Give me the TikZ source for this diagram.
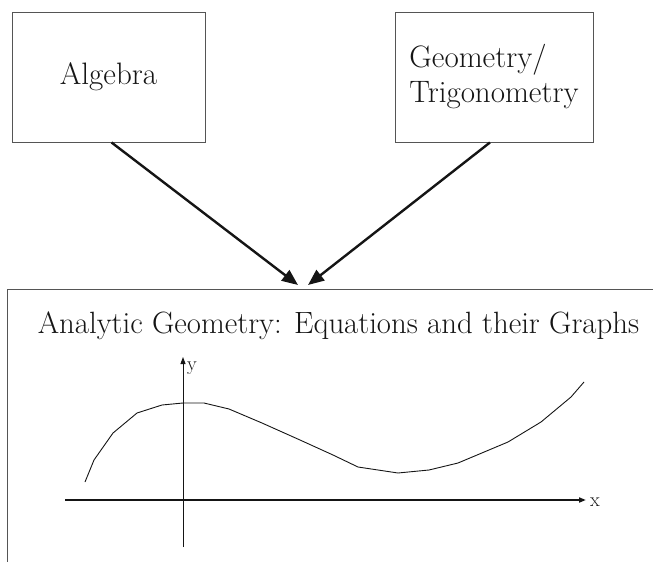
\documentclass[tikz,border=0pt]{standalone}
\usepackage{fontspec}
\usepackage{tikz}
\usetikzlibrary{arrows.meta,positioning,calc}
\definecolor{ink}{HTML}{151515}
\definecolor{frameline}{HTML}{555555}
\tikzset{
    every picture/.style={line join=miter},
    subjectbox/.style={draw=frameline,line width=0.9pt,inner sep=0pt,
      font=\fontsize{31pt}{35pt}\selectfont,text=ink},
    bigframe/.style={draw=frameline,line width=1pt,inner sep=0pt,anchor=north west},
    feedarrow/.style={-{Triangle[length=16pt,width=13pt]},draw=ink,line width=2.4pt},
    axisline/.style={-{Triangle[length=7pt,width=5pt]},draw=ink},
    axislabel/.style={font=\fontsize{20pt}{22pt}\selectfont,text=ink,inner sep=1pt}
}
\begin{document}
\begin{tikzpicture}[x=1pt,y=-1pt]
    \useasboundingbox (0,0) rectangle (653,562);
    \clip (0,0) rectangle (653,562);
    % the two source subjects
    \node[subjectbox,minimum width=193pt,minimum height=130pt] (alg) at (108.5,77) {Algebra};
    \node[subjectbox,minimum width=198pt,minimum height=130pt,align=left] (geo) at (494,77)
        {Geometry/\\Trigonometry};
    % the combined subject, its frame runs off the page
    \node[bigframe,minimum width=660pt,minimum height=290pt] (frame) at (7,289) {};
    \node[anchor=base,font=\fontsize{30.8pt}{35pt}\selectfont,text=ink,inner sep=0pt] (title)
        at (338.5,333) {Analytic Geometry: Equations and their Graphs};
    \coordinate (tipL) at (298,285);
    \coordinate (tipR) at (308,285);
    \draw[feedarrow] ($(alg.south)+(3,0)$) -- (tipL);
    \draw[feedarrow] ($(geo.south)+(-4,0)$) -- (tipR);
    % axes
    \coordinate (xstart) at (65,500);
    \coordinate (xend) at (586,500);
    \coordinate (ystart) at (183,547);
    \coordinate (yend) at (183,357);
    \draw[axisline,line width=1.8pt] (xstart) -- (xend);
    \draw[axisline,line width=0.9pt] (ystart) -- (yend);
    \node[axislabel,right=3pt of xend,yshift=-2pt] (xlab) {x};
    \node[axislabel,anchor=north west] (ylab) at (186,361) {y};
    % the graph, traced as a polyline
    \draw[ink,line width=0.9pt] (85,482) -- (94,460) -- (113,433) -- (137,413) -- (162,405)
        -- (183,403) -- (204,403) -- (229,409) -- (262,423) -- (300,440) -- (333,455)
        -- (358,467) -- (398,473) -- (429,470) -- (458,463) -- (508,442) -- (541,422)
        -- (571,397) -- (584,382);
\end{tikzpicture}
\end{document}
